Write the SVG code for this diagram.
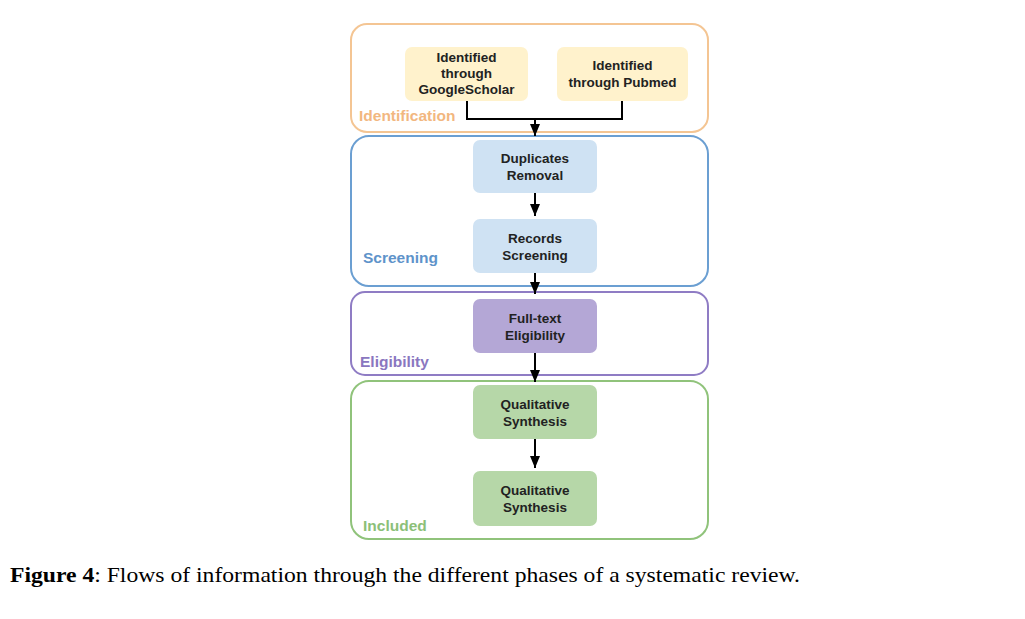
<svg xmlns="http://www.w3.org/2000/svg" width="1025" height="619" viewBox="0 0 1025 619">
<defs>
<marker id="arr" viewBox="0 0 10 12" refX="5" refY="12" markerWidth="10" markerHeight="12" orient="0" markerUnits="userSpaceOnUse">
<path d="M0,0 L10,0 L5,12 z" fill="#000"/>
</marker>
<style>
.phase{fill:#fff;stroke-width:2}
.node{stroke:none}
.nt{font-family:"Liberation Sans",Arial,sans-serif;font-weight:bold;font-size:13.5px;fill:#222;text-anchor:middle}
.pl{font-family:"Liberation Sans",Arial,sans-serif;font-weight:bold;font-size:15.5px}
.conn{fill:none;stroke:#000;stroke-width:2}
.cap{font-family:"Liberation Serif","Times New Roman",serif;font-size:22px;fill:#000}
</style>
</defs>
<rect width="1025" height="619" fill="#fff"/>
<g id="phase-identification">
<rect class="phase" x="351" y="24" width="357" height="108" rx="16" stroke="#f4c593"/>
<text class="pl" x="359" y="121" fill="#f2b77f">Identification</text>
</g>
<g id="phase-screening">
<rect class="phase" x="351" y="136" width="357" height="150" rx="18" stroke="#6b9fd2"/>
<text class="pl" x="363" y="263" fill="#5e93ca">Screening</text>
</g>
<g id="phase-eligibility">
<rect class="phase" x="351" y="292" width="357" height="83" rx="14" stroke="#8f7cc4"/>
<text class="pl" x="360" y="367" fill="#8a77c0">Eligibility</text>
</g>
<g id="phase-included">
<rect class="phase" x="351" y="381" width="357" height="158" rx="18" stroke="#90c37b"/>
<text class="pl" x="363" y="531" fill="#8cc078">Included</text>
</g>
<g id="node-googlescholar">
<rect class="node" x="405" y="47" width="123" height="54" rx="7" fill="#fff2cc"/>
<text class="nt" x="466.5" y="62">Identified</text>
<text class="nt" x="466.5" y="78">through</text>
<text class="nt" x="466.5" y="94">GoogleScholar</text>
</g>
<g id="node-pubmed">
<rect class="node" x="557" y="47" width="131" height="54" rx="7" fill="#fff2cc"/>
<text class="nt" x="622.5" y="70">Identified</text>
<text class="nt" x="622.5" y="87">through Pubmed</text>
</g>
<g id="node-duplicates">
<rect class="node" x="473" y="140" width="124" height="53" rx="7" fill="#cfe2f3"/>
<text class="nt" x="535" y="163">Duplicates</text>
<text class="nt" x="535" y="180">Removal</text>
</g>
<g id="node-records">
<rect class="node" x="473" y="219" width="124" height="54" rx="7" fill="#cfe2f3"/>
<text class="nt" x="535" y="243">Records</text>
<text class="nt" x="535" y="260">Screening</text>
</g>
<g id="node-fulltext">
<rect class="node" x="473" y="299" width="124" height="54" rx="7" fill="#b4a7d6"/>
<text class="nt" x="535" y="323">Full-text</text>
<text class="nt" x="535" y="340">Eligibility</text>
</g>
<g id="node-qual1">
<rect class="node" x="473" y="385" width="124" height="54" rx="7" fill="#b6d7a8"/>
<text class="nt" x="535" y="409">Qualitative</text>
<text class="nt" x="535" y="426">Synthesis</text>
</g>
<g id="node-qual2">
<rect class="node" x="473" y="471" width="124" height="55" rx="7" fill="#b6d7a8"/>
<text class="nt" x="535" y="495">Qualitative</text>
<text class="nt" x="535" y="512">Synthesis</text>
</g>
<g id="connectors">
<polyline class="conn" points="467,101 467,119 622,119 622,101"/>
<line class="conn" x1="535" y1="119" x2="535" y2="136" marker-end="url(#arr)"/>
<line class="conn" x1="535" y1="193" x2="535" y2="216" marker-end="url(#arr)"/>
<line class="conn" x1="535" y1="273" x2="535" y2="294" marker-end="url(#arr)"/>
<line class="conn" x1="535" y1="353" x2="535" y2="382" marker-end="url(#arr)"/>
<line class="conn" x1="535" y1="439" x2="535" y2="468" marker-end="url(#arr)"/>
</g>
<text class="cap" x="10" y="582" textLength="790" lengthAdjust="spacingAndGlyphs"><tspan font-weight="bold">Figure 4</tspan>: Flows of information through the different phases of a systematic review.</text>
</svg>
